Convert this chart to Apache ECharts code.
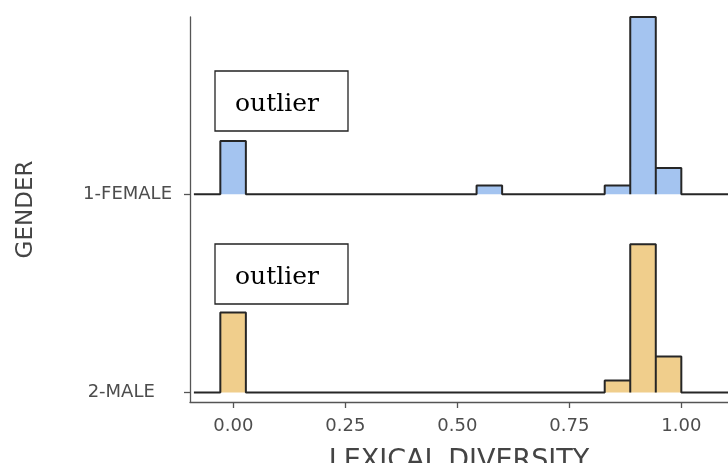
<!DOCTYPE html>
<html>
<head>
<meta charset="utf-8">
<script src="https://cdn.jsdelivr.net/npm/echarts@6/dist/echarts.min.js"></script>
<style>
  html, body { margin: 0; padding: 0; background: #fff; }
  #chart { width: 728px; height: 463px; }
</style>
</head>
<body>
<div id="chart"></div>
<script>
// rows of the ridgeline (baseline value on the y axis)
const rowNames = ["2-MALE   ", "1-FEMALE"];
const rowBase = [0, 1];

// histogram bins, left edge of each bin, height in row units
const binWidth = 0.057;
const femaleBinLeft = [-0.029, 0.543, 0.829, 0.886, 0.943];
const femaleHeight = [0.269, 0.045, 0.045, 0.895, 0.133];
const maleBinLeft = [-0.029, 0.829, 0.886, 0.943];
const maleHeight = [0.403, 0.06, 0.748, 0.181];

const xTicks = [0, 0.25, 0.5, 0.75, 1];
const lineStart = -0.088;
const lineEnd = 1.11;

// step outline of a histogram sitting on its baseline
function outline(lefts, heights, base) {
  const pts = [[lineStart, base]];
  lefts.forEach((l, i) => {
    const r = l + binWidth;
    pts.push([l, base], [l, base + heights[i]], [r, base + heights[i]], [r, base]);
  });
  pts.push([lineEnd, base]);
  return pts;
}

const chart = echarts.init(document.getElementById("chart"));

const axisGrey = "#555";
const textGrey = "#4d4d4d";

function ridge(name, lefts, heights, base, fill) {
  return {
    name: name,
    type: "line",
    data: outline(lefts, heights, base),
    symbol: "none",
    animation: false,
    clip: true,
    lineStyle: { color: "#262626", width: 2 },
    areaStyle: { color: fill, opacity: 1, origin: base },
  };
}

function annotation(x, y) {
  return {
    type: "group",
    z: 100,
    children: [
      {
        type: "rect",
        shape: { x: x, y: y, width: 133, height: 60 },
        style: { fill: "#fff", stroke: "#222", lineWidth: 1.3 },
      },
      {
        type: "text",
        style: {
          x: x + 62, y: y + 33, text: "outlier",
          font: "25px 'DejaVu Serif'", fill: "#000",
          align: "center", verticalAlign: "middle",
        },
      },
    ],
  };
}

chart.setOption({
  animation: false,
  grid: {
    left: 190, right: 0, top: 17, bottom: 61,
    containLabel: false, outerBoundsMode: "none",
  },
  xAxis: {
    type: "value",
    min: -0.0967,
    max: 1.1042,
    name: "LEXICAL DIVERSITY",
    nameLocation: "middle",
    nameGap: 45,
    nameTextStyle: { fontFamily: "DejaVu Sans", fontSize: 27, color: "#444" },
    splitLine: { show: false },
    axisLine: { show: true, onZero: false, lineStyle: { color: axisGrey, width: 1.3 } },
    axisTick: { show: true, customValues: xTicks, length: 6, lineStyle: { color: axisGrey, width: 1.3 } },
    axisLabel: {
      customValues: xTicks,
      margin: 15,
      fontFamily: "DejaVu Sans",
      fontSize: 18,
      color: textGrey,
      formatter: (v) => v.toFixed(2),
    },
  },
  yAxis: {
    type: "value",
    min: -0.0484,
    max: 1.895,
    name: "GENDER",
    nameLocation: "middle",
    nameRotate: 90,
    nameGap: 152,
    nameTextStyle: { fontFamily: "DejaVu Sans", fontSize: 23, color: "#444" },
    splitLine: { show: false },
    axisLine: { show: true, onZero: false, lineStyle: { color: axisGrey, width: 1.3 } },
    axisTick: { show: true, customValues: rowBase, length: 6, lineStyle: { color: axisGrey, width: 1.3 } },
    axisLabel: {
      customValues: rowBase,
      margin: 18,
      fontFamily: "DejaVu Sans",
      fontSize: 18,
      color: textGrey,
      formatter: (v) => rowNames[rowBase.indexOf(v)],
    },
  },
  series: [
    ridge("1-FEMALE", femaleBinLeft, femaleHeight, 1, "#a4c4f0"),
    ridge("2-MALE", maleBinLeft, maleHeight, 0, "#f0ce8c"),
  ],
  graphic: [annotation(215, 71), annotation(215, 244)],
});
</script>
</body>
</html>
